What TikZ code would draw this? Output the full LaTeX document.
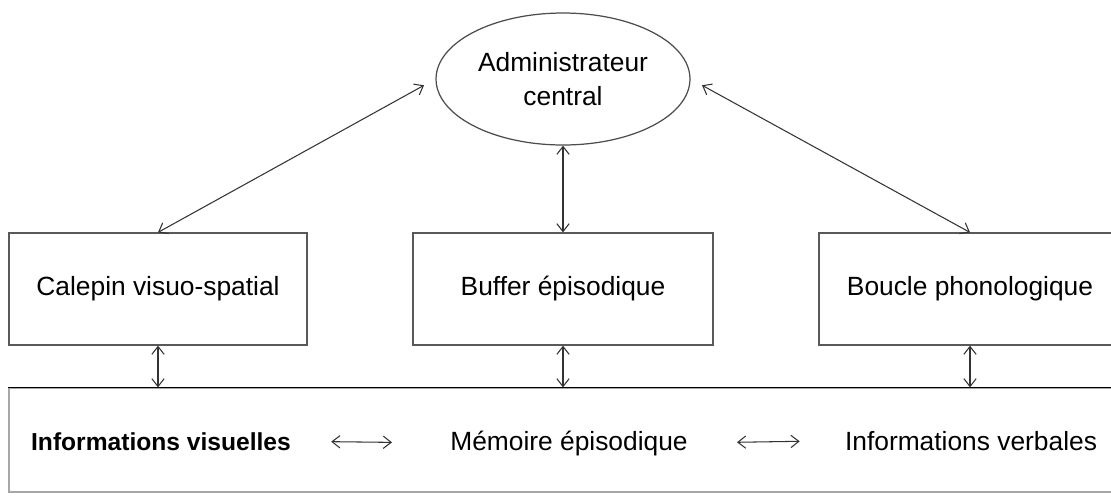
\documentclass[tikz,border=0pt]{standalone}
\usepackage{fontspec}
\setmainfont{Liberation Sans}
\usetikzlibrary{shapes.geometric, arrows.meta, positioning}

\begin{document}
\begin{tikzpicture}[x=0.02cm, y=-0.02cm,
  box/.style={draw=black!65, line width=0.7pt, minimum height=2.24cm, inner sep=0pt,
    font=\fontsize{15}{18}\selectfont},
  conn/.style={draw=black!80, line width=0.6pt,
    {Straight Barb[length=4.5pt,width=7pt]}-{Straight Barb[length=4.5pt,width=7pt]}},
  txt/.style={inner sep=0pt, anchor=base, font=\fontsize{15}{18}\selectfont}
]
\useasboundingbox (0,0) rectangle (1111,495);
\clip (0,0) rectangle (1111,495);

% central executive
\node (admin) at (563,79) [ellipse, draw=black!70, line width=0.7pt, inner sep=0pt,
  minimum width=5.08cm, minimum height=2.64cm, align=center,
  font=\fontsize{15}{19}\selectfont] {Administrateur\\central};

% slave systems
\node (calepin) at (158,289) [box, minimum width=5.96cm] {Calepin visuo-spatial};
\node (buffer) at (563,289) [box, minimum width=6cm] {Buffer épisodique};
\node (boucle) at (970,289) [box, minimum width=6.04cm] {Boucle phonologique};

% long term memory
\node (mem) at (579,440) [draw=black!35, line width=0.7pt, inner sep=0pt,
  minimum width=22.8cm, minimum height=2.08cm] {};
\draw[line width=1pt] (mem.north west) -- (mem.north east);

\node (visu) at (161,450) [txt, font=\fontsize{14}{18}\selectfont\bfseries] {Informations visuelles};
\node (memep) at (569,450) [txt] {Mémoire épisodique};
\node (verb) at (971,450) [txt] {Informations verbales};

\draw[conn, shorten >=0.26cm] (calepin.north) -- (admin.west);
\draw[conn, shorten >=0.26cm] (boucle.north) -- (admin.east);
\draw[conn] (admin.south) -- (buffer.north);

\draw[conn] (calepin.south) -- (calepin.south |- mem.north);
\draw[conn] (buffer.south) -- (buffer.south |- mem.north);
\draw[conn] (boucle.south) -- (boucle.south |- mem.north);

\draw[conn, shorten <=0.8cm, shorten >=1.16cm] (visu.east) -- (memep.west);
\draw[conn, shorten <=0.98cm, shorten >=0.9cm] (memep.east) -- (verb.west);
\end{tikzpicture}
\end{document}
